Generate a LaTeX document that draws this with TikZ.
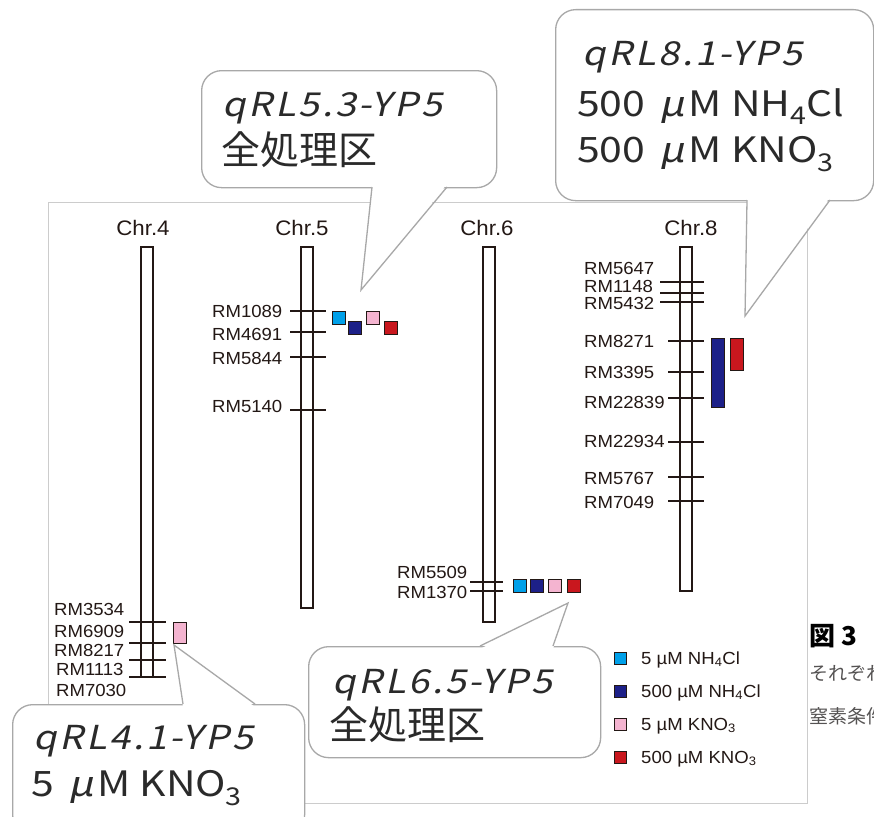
\documentclass[tikz,border=0pt]{standalone}
\usepackage{fontspec}
\setmainfont{Liberation Sans}[FakeStretch=1.06]
\newfontfamily\jpfont{Noto Sans CJK JP}
\newfontfamily\calit{Noto Sans CJK JP}[FakeSlant=0.22,FakeStretch=1.15,LetterSpace=8]
\newfontfamily\calrm{Noto Sans CJK JP}[FakeStretch=1.17]
\newcommand\umol{\hspace{0.15em}{\calit μ}\hspace{0.1em}M}
\definecolor{ink}{HTML}{231815}
\definecolor{ctext}{HTML}{2A2A2A}
\definecolor{cgray}{HTML}{A8A8A8}
\definecolor{fgray}{HTML}{CCCCCC}
\definecolor{capgray}{HTML}{555353}
\definecolor{cyanq}{HTML}{00A0E9}
\definecolor{navyq}{HTML}{1D2088}
\definecolor{pinkq}{HTML}{F4B4D0}
\definecolor{redq}{HTML}{C9171E}
\begin{document}
\begin{tikzpicture}[x=1pt,y=-1pt,
  chrom/.style={draw=ink, line width=1.2pt, fill=white, minimum width=12pt, inner sep=0pt},
  mkline/.style={draw=ink, line width=1.2pt},
  mlab/.style={anchor=west, inner sep=0pt, text=ink, font=\fontsize{17.5}{19}\selectfont},
  clab/.style={anchor=base, inner sep=0pt, text=ink, font=\fontsize{21}{24}\selectfont},
  qtl/.style={draw=ink, line width=0.9pt, inner sep=0pt, minimum width=13pt},
  leg/.style={draw=ink, line width=0.8pt, inner sep=0pt, minimum width=12.5pt, minimum height=12pt},
  legtxt/.style={anchor=base west, inner sep=0pt, text=ink, font=\fontsize{17.5}{19}\selectfont},
  cbox/.style={draw=cgray, line width=1.3pt, fill=white, rounded corners=20pt, inner sep=0pt, anchor=north west},
  tailline/.style={draw=cgray, line width=1.3pt, line join=miter},
  ctxt/.style={anchor=base west, inner sep=0pt, text=ctext},
  cit/.style={ctxt, font=\calit\fontsize{33}{36}\selectfont},
  crm/.style={ctxt, font=\calrm\fontsize{35}{38}\selectfont},
  cjp/.style={ctxt, font=\jpfont\fontsize{39}{42}\selectfont},
]
\useasboundingbox (0,0) rectangle (874,816);
\clip (0,0) rectangle (874,816);
\fill[white] (0,0) rectangle (874,816);

% frame
\node[draw=fgray, line width=1.2pt, minimum width=759pt, minimum height=601pt, inner sep=0pt, anchor=north west] (frame) at (48,202) {};

% chromosome labels
\node[clab] (h4) at (143,235) {Chr.4};
\node[clab] (h5) at (302,235) {Chr.5};
\node[clab] (h6) at (487,235) {Chr.6};
\node[clab] (h8) at (691,235) {Chr.8};

% chromosomes
\node[chrom, minimum height=430pt] (chr4) at (147,462) {};
\node[chrom, minimum height=361pt] (chr5) at (307,427.5) {};
\node[chrom, minimum height=375pt] (chr6) at (489,434.5) {};
\node[chrom, minimum height=344pt] (chr8) at (686,419) {};

% Chr.4 markers
\foreach \y in {622,643,660,677} \draw[mkline] (129,\y) -- (166,\y);
\node[mlab] (m4a) at (54,609) {RM3534};
\node[mlab] (m4b) at (54,631) {RM6909};
\node[mlab] (m4c) at (54,650) {RM8217};
\node[mlab] (m4d) at (56,669) {RM1113};
\node[mlab] (m4e) at (56,690) {RM7030};

% Chr.5 markers
\foreach \y in {311,332,357,410} \draw[mkline] (290,\y) -- (326,\y);
\node[mlab] (m5a) at (212,311) {RM1089};
\node[mlab] (m5b) at (212,334) {RM4691};
\node[mlab] (m5c) at (212,358) {RM5844};
\node[mlab] (m5d) at (212,406) {RM5140};

% Chr.6 markers
\foreach \y in {582,591} \draw[mkline] (470,\y) -- (503,\y);
\node[mlab] (m6a) at (397,572) {RM5509};
\node[mlab] (m6b) at (397,592) {RM1370};

% Chr.8 markers
\foreach \y in {282,293,302} \draw[mkline] (660,\y) -- (704,\y);
\foreach \y in {341,372,398,442,477,501} \draw[mkline] (668,\y) -- (704,\y);
\node[mlab] (m8a) at (584,268) {RM5647};
\node[mlab] (m8b) at (584,286) {RM1148};
\node[mlab] (m8c) at (584,303) {RM5432};
\node[mlab] (m8d) at (584,341) {RM8271};
\node[mlab] (m8e) at (584,372) {RM3395};
\node[mlab] (m8f) at (584,402) {RM22839};
\node[mlab] (m8g) at (584,441) {RM22934};
\node[mlab] (m8h) at (584,478) {RM5767};
\node[mlab] (m8i) at (584,502) {RM7049};

% QTL boxes
\node[qtl, fill=pinkq, minimum height=21pt] (q4) at (179.5,632.5) {};
\node[qtl, fill=cyanq, minimum height=13pt] (q5a) at (338.5,317.5) {};
\node[qtl, fill=navyq, minimum height=13pt] (q5b) at (355,328) {};
\node[qtl, fill=pinkq, minimum height=13pt] (q5c) at (372.5,317.5) {};
\node[qtl, fill=redq,  minimum height=13pt] (q5d) at (390.5,328) {};
\node[qtl, fill=cyanq, minimum height=13pt] (q6a) at (519.5,585.5) {};
\node[qtl, fill=navyq, minimum height=13pt] (q6b) at (537,585.5) {};
\node[qtl, fill=pinkq, minimum height=13pt] (q6c) at (555,585.5) {};
\node[qtl, fill=redq,  minimum height=13pt] (q6d) at (574,585.5) {};
\node[qtl, fill=navyq, minimum height=69pt] (q8a) at (717.5,372.5) {};
\node[qtl, fill=redq,  minimum height=32pt] (q8b) at (736.5,354) {};

% legend
\node[leg, fill=cyanq] (l1) at (620.5,658) {};
\node[leg, fill=navyq] (l2) at (620.5,691) {};
\node[leg, fill=pinkq] (l3) at (620.5,724) {};
\node[leg, fill=redq]  (l4) at (620.5,757) {};
\node[legtxt] (l1t) at (641,664) {5 µM NH\textsubscript{4}Cl};
\node[legtxt] (l2t) at (641,697) {500 µM NH\textsubscript{4}Cl};
\node[legtxt] (l3t) at (641,730) {5 µM KNO\textsubscript{3}};
\node[legtxt] (l4t) at (641,763) {500 µM KNO\textsubscript{3}};

% callout qRL5.3
\node[cbox, minimum width=295pt, minimum height=117pt] (k53) at (201,70) {};
\coordinate (t53) at (361,290);
\fill[white] (372,184) -- (t53) -- (447,184) -- cycle;
\draw[tailline] (372,187) -- (t53) -- (447,187);
\node[cit] (k53a) at (222,116) {qRL5.3-YP5};
\node[cjp] (k53b) at (221,164) {全処理区};

% callout qRL8.1
\node[cbox, minimum width=318pt, minimum height=191pt] (k81) at (555,9) {};
\coordinate (t81) at (745,316);
\fill[white] (747,197) -- (t81) -- (830,197) -- cycle;
\draw[tailline] (747,200) -- (t81) -- (830,200);
\node[cit] (k81a) at (582,65) {qRL8.1-YP5};
\node[crm] (k81b) at (577,116) {500 \umol{} NH\textsubscript{4}Cl};
\node[crm] (k81c) at (577,162) {500 \umol{} KNO\textsubscript{3}};

% callout qRL4.1
\node[cbox, minimum width=292pt, minimum height=130pt] (k41) at (12,704) {};
\coordinate (t41) at (174,645);
\fill[white] (183,707) -- (t41) -- (255,707) -- cycle;
\draw[tailline] (183,704) -- (t41) -- (255,704);
\node[cit] (k41a) at (33,749) {qRL4.1-YP5};
\node[crm] (k41b) at (31,796) {5 \umol{} KNO\textsubscript{3}};

% callout qRL6.5
\node[cbox, minimum width=292pt, minimum height=111pt] (k65) at (308,646) {};
\coordinate (t65) at (568,603);
\fill[white] (480,649) -- (t65) -- (553,649) -- cycle;
\draw[tailline] (480,646) -- (t65) -- (553,646);
\node[cit] (k65a) at (332,693) {qRL6.5-YP5};
\node[cjp] (k65b) at (329,739) {全処理区};

% caption fragment at right
\node[anchor=base west, inner sep=0pt, text=black, font=\jpfont\bfseries\fontsize{26}{28}\selectfont] (fig) at (809,645) {図\hspace{0.25em}3};
\node[anchor=base west, inner sep=0pt, text=capgray, font=\jpfont\fontsize{19}{21}\selectfont] (cap1) at (809,680) {それぞれ};
\node[anchor=base west, inner sep=0pt, text=capgray, font=\jpfont\fontsize{19}{21}\selectfont] (cap2) at (809,723) {窒素条件};
\end{tikzpicture}
\end{document}
